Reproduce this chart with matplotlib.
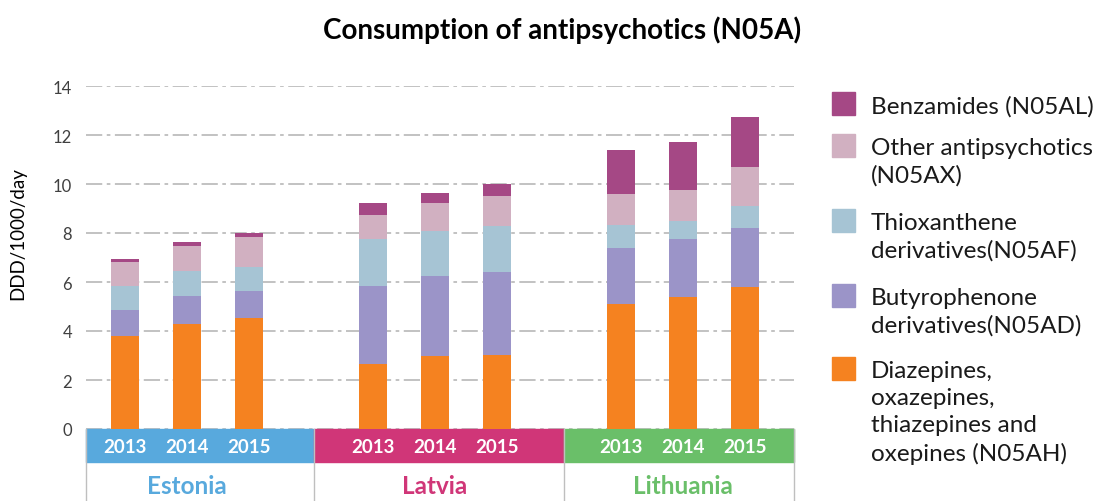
import numpy as np
import matplotlib.pyplot as plt
from matplotlib.patches import Rectangle

plt.rcParams['font.family'] = ['Lato', 'DejaVu Sans']

countries = ['Estonia', 'Latvia', 'Lithuania']
years = ['2013', '2014', '2015']

# DDD/1000/day, per country x year (Estonia 2013-15, Latvia 2013-15, Lithuania 2013-15)
diazepines    = [3.78, 4.29, 4.54, 2.65, 2.97, 3.03, 5.10, 5.39, 5.78]
butyrophenone = [1.09, 1.15, 1.11, 3.20, 3.29, 3.37, 2.30, 2.35, 2.42]
thioxanthene  = [0.98, 1.00, 0.96, 1.91, 1.81, 1.87, 0.93, 0.76, 0.89]
other         = [0.98, 1.04, 1.24, 0.99, 1.14, 1.25, 1.26, 1.26, 1.60]
benzamides    = [0.11, 0.17, 0.17, 0.46, 0.42, 0.48, 1.81, 1.94, 2.03]

series = [diazepines, butyrophenone, thioxanthene, other, benzamides]
colors = ['#F58220', '#9B94C8', '#A6C4D4', '#D1B0C1', '#A54885']
labels = ['Diazepines,\noxazepines,\nthiazepines and\noxepines (N05AH)',
          'Butyrophenone\nderivatives(N05AD)',
          'Thioxanthene\nderivatives(N05AF)',
          'Other antipsychotics\n(N05AX)',
          'Benzamides (N05AL)']
band_colors = ['#58A9DD', '#D03678', '#6ABF69']

x = np.array([0, 1, 2, 4, 5, 6, 8, 9, 10])

fig = plt.figure(figsize=(11.02, 5.02), dpi=100)
ax = fig.add_axes([86/1102, 1-430/502, 708/1102, 343/502])

bottom = np.zeros(len(x))
for vals, c in zip(series, colors):
    ax.bar(x, vals, width=0.44, bottom=bottom, color=c, zorder=3)
    bottom += np.array(vals)

ax.set_xlim(-0.63, 10.79)
ax.set_ylim(0, 14)
ax.set_yticks(range(0, 15, 2))
ax.yaxis.grid(True, color='#BDBDBD', linewidth=1.3, linestyle=(0, (9, 2.5, 2, 2.5)), zorder=0)
for s in ax.spines.values():
    s.set_visible(False)
ax.tick_params(axis='y', length=0, labelsize=12, labelcolor='#404040', pad=10)
ax.set_xticks([])
ax.set_ylabel('DDD/1000/day', fontsize=13.5)
ax.yaxis.set_label_coords(-0.085, 0.574)

# category bands under the axis
edges = [-0.63, 3.05, 7.08, 10.79]
for i, name in enumerate(countries):
    ax.add_patch(Rectangle((edges[i], -1.35), edges[i+1]-edges[i], 1.33,
                           color=band_colors[i], clip_on=False, zorder=2))
    for j in range(3):
        ax.text(x[3*i+j], -0.7, years[j], ha='center', va='center', color='white',
                fontsize=13.5, fontweight='bold', clip_on=False)
    ax.text(x[3*i+1], -2.3, name, ha='center', va='center', color=band_colors[i],
            fontsize=17.5, fontweight='bold', clip_on=False)
for e in edges:
    ax.plot([e, e], [0, -3.0], color='#BFBFBF', linewidth=1, clip_on=False)

fig.text(562/1102, 1-30/502, 'Consumption of antipsychotics (N05A)', ha='center', va='center',
         fontsize=20, fontweight='bold')

# legend, top entry first
tops = [105, 147, 222, 297, 370]
for k, top in enumerate(tops):
    idx = len(series) - 1 - k
    fig.patches.append(Rectangle((832/1102, 1-(top+11)/502), 23/1102, 23/502,
                                 transform=fig.transFigure, color=colors[idx], figure=fig))
    fig.text(871/1102, 1-(top-9)/502, labels[idx], ha='left', va='top',
             fontsize=17.5, color='#1a1a1a', linespacing=1.36)

fig.savefig('out.png', dpi=100)
